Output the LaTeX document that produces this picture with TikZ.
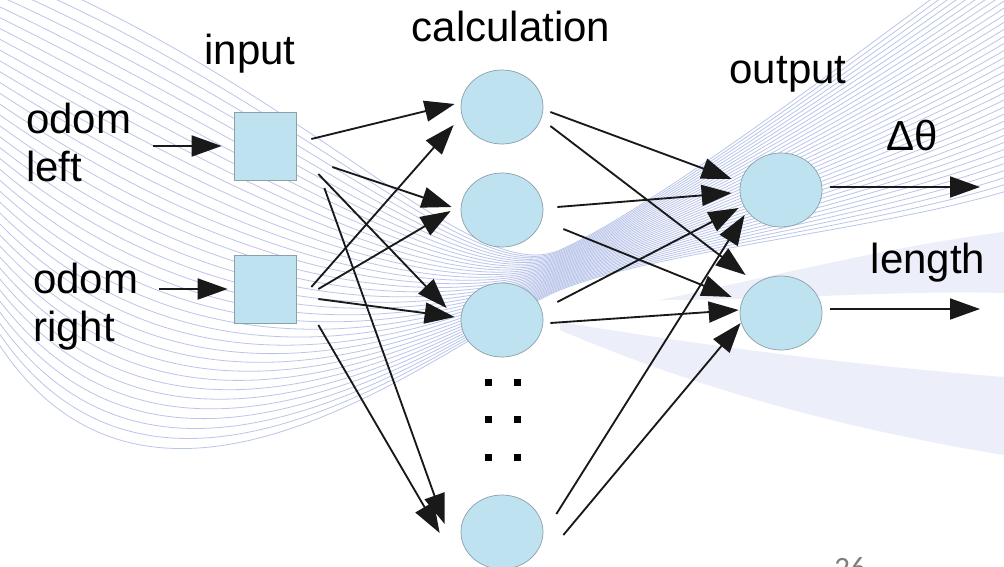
\documentclass[tikz,border=0pt]{standalone}
\usepackage{fontspec}
\setmainfont{Liberation Sans}
\newfontfamily\slidefont{Carlito}
\usetikzlibrary{positioning, arrows.meta, shapes.geometric}
\definecolor{cellblue}{RGB}{191,226,241}
\definecolor{cellrim}{RGB}{140,160,168}
\definecolor{wave}{RGB}{186,197,234}
\definecolor{haze}{RGB}{236,239,249}
\tikzset{
	every input/.style={rectangle, draw=cellrim, fill=cellblue, minimum width=62pt, minimum height=68pt, inner sep=0pt, line width=0.25mm},
	every neuron/.style={ellipse, draw=cellrim, fill=cellblue, minimum width=82pt, minimum height=74pt, inner sep=0pt, line width=0.25mm},
	every title/.style={font=\fontsize{42}{48}\selectfont, inner sep=0pt},
	every link/.style={-{Triangle[length=30pt,width=21pt]}, line width=0.65mm, color=black!90},
}

\begin{document}
\begin{tikzpicture}[x=1pt, y=-1pt]
		\useasboundingbox (0,0) rectangle (1004,567);
		\fill[white] (0,0) rectangle (1004,567);
		% slide background
		\fill[haze] (560,322) .. controls (700,345) and (850,365) .. (1004,377) -- (1004,455) .. controls (850,430) and (700,390) .. (560,330) -- cycle;
		\fill[haze] (660,300) .. controls (800,270) and (900,245) .. (1004,232) -- (1004,293) .. controls (900,290) and (780,300) .. (660,300) -- cycle;
		\foreach \i in {0,...,35} {
			\pgfmathsetmacro\f{\i/35}
			\draw[wave, line width=0.28mm]
				(-10,-40+370*\f) .. controls (300-150*\f,80+520*\f) and (470-10*\f,290+40*\f)
				.. (560,250+40*\f) .. controls (650+10*\f,210+40*\f) and (850+30*\f,60+170*\f)
				.. (1010,-60+250*\f);
		};

		\node [every title/.try, anchor=north west, align=left] (odom-l) at (26,103) {odom\\left};
		\node [every title/.try, anchor=north west, align=left] (odom-r) at (33,263) {odom\\right};
		\node [every input/.try] (in-l) at (265,146) {};
		\node [every input/.try] (in-r) at (265,289) {};
		\node [every title/.try, anchor=base] (t-in) at (250,65) {input};
		\node [every title/.try, anchor=base] (t-calc) at (511,42) {calculation};
		\node [every title/.try, anchor=base] (t-out) at (788,84) {output};
		\node [every title/.try, anchor=base] (t-dth) at (912,151) {Δθ};
		\node [every title/.try, anchor=base] (t-len) at (928,273) {length};
		\foreach \y [count=\i] in {107,210,320,532} {
			\node [every neuron/.try] (c\i) at (502,\y) {};
		};
		\foreach \y [count=\i] in {190,313} {
			\node [every neuron/.try] (o\i) at (781,\y) {};
		};
		\foreach \x in {488,517} {
			\foreach \y in {382,419,457} {
				\fill (\x-3.5,\y-3.5) rectangle (\x+3.5,\y+3.5);
			};
		};
		\coordinate (dth-end) at (980,187);
		\coordinate (len-end) at (980,309);

		\draw [every link/.try, shorten <=22pt, shorten >=12pt] (odom-l.east |- in-l) -- (in-l.west);
		\draw [every link/.try, shorten <=21pt, shorten >=6pt] (odom-r.east |- in-r) -- (in-r.west);
		\foreach \c/\sx/\sy/\tx/\ty in {c1/15/-7/-6/-3, c2/36/21/-9/-3, c3/22/28/-14/-12, c4/28/42/-16/-8} {
			\draw [every link/.try] ([shift={(\sx,\sy)}]in-l.east) -- ([shift={(\tx,\ty)}]\c.west);
		};
		\foreach \c/\sx/\sy/\tx/\ty in {c1/15/-2/-7/18, c2/22/0/-10/1, c3/22/10/-6/-3, c4/22/36/-21/1} {
			\draw [every link/.try] ([shift={(\sx,\sy)}]in-r.east) -- ([shift={(\tx,\ty)}]\c.west);
		};
		\foreach \c/\sx/\sy/\tx/\ty in {c1/7/5/-8/-11, c2/14/-3/-8/3, c3/14/-18/-1/18, c4/13/-18/5/25} {
			\draw [every link/.try] ([shift={(\sx,\sy)}]\c.east) -- ([shift={(\tx,\ty)}]o1.west);
		};
		\foreach \c/\sx/\sy/\tx/\ty in {c1/7/19/6/-38, c2/20/19/-8/-16, c3/7/3/-1/-3, c4/20/3/1/10} {
			\draw [every link/.try] ([shift={(\sx,\sy)}]\c.east) -- ([shift={(\tx,\ty)}]o2.west);
		};
		\draw [every link/.try] ([shift={(8,-3)}]o1.east) -- (dth-end);
		\draw [every link/.try] ([shift={(8,-4)}]o2.east) -- (len-end);
		\node [font=\slidefont\fontsize{31}{33}\selectfont, text=gray, anchor=base] (pg) at (850,578) {26};
	\end{tikzpicture}
\end{document}
